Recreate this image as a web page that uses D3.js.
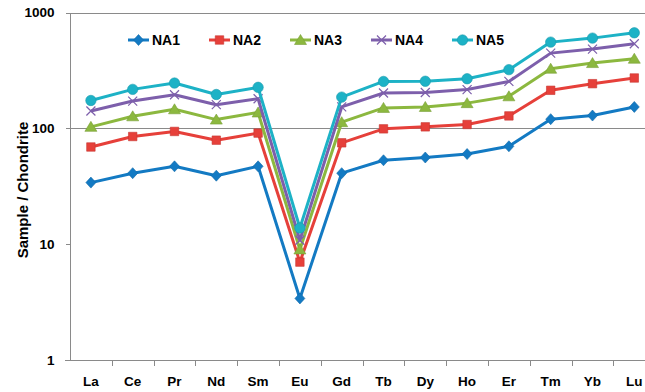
<!DOCTYPE html>
<html lang="en">
<head>
<meta charset="utf-8">
<title>REE chondrite-normalised pattern</title>
<script src="https://cdn.jsdelivr.net/npm/d3@7"></script>
<style>
  body { margin: 0; background: #fff; }
  text { font-family: "Liberation Sans", Arial, sans-serif; font-weight: bold; fill: #000; }
  .grid line { stroke: #8a8a8a; stroke-width: 1; }
  .axis path, .axis line { stroke: #8a8a8a; shape-rendering: crispEdges; }
  .series { fill: none; stroke-width: 3; stroke-linejoin: round; }
</style>
</head>
<body>
<script>
// categories (rare earth elements)
var elements = ["La","Ce","Pr","Nd","Sm","Eu","Gd","Tb","Dy","Ho","Er","Tm","Yb","Lu"];

// series values
var na1 = [34, 41, 47, 39, 47, 3.4, 41, 53, 56, 60, 70, 120, 129, 153];
var na2 = [69, 85, 94, 79, 91, 7.0, 75, 99, 103, 108, 128, 213, 243, 272];
var na3 = [103, 127, 146, 119, 137, 9.0, 113, 150, 153, 165, 189, 327, 366, 399];
var na4 = [141, 172, 195, 160, 180, 10.8, 153, 202, 204, 216, 254, 446, 483, 537];
var na5 = [174, 217, 246, 196, 226, 13.8, 186, 254, 255, 268, 321, 555, 601, 668];

var seriesNames = ["NA1","NA2","NA3","NA4","NA5"];
var yTicks = [1, 10, 100, 1000];
var gridValues = [100, 1000];

var colors = ["#137ac3", "#e6403a", "#8cb83f", "#7d5fab", "#1db2c6"];
var shapes = ["diamond", "square", "triangle", "cross", "circle"];

var seriesData = [na1, na2, na3, na4, na5].map(function(vals, i) {
  return { name: seriesNames[i], color: colors[i], shape: shapes[i],
           values: vals.map(function(v, j) { return { el: elements[j], v: v }; }) };
});

var w = 645, h = 392;
var padLeft = 70, padTop = 12.5, axisY = 360;
var bandW = 41.8;

var svg = d3.select("body").append("svg")
  .attr("width", w).attr("height", h);

var x = d3.scaleBand().domain(elements).range([padLeft, padLeft + elements.length * bandW]);
var y = d3.scaleLog().domain([1, 1000]).range([axisY, padTop]);
var cx = function(el) { return x(el) + x.bandwidth() / 2; };

// gridlines
svg.append("g").attr("class", "grid")
  .selectAll("line").data(gridValues).enter().append("line")
  .attr("x1", padLeft).attr("x2", w)
  .attr("y1", function(d) { return Math.round(y(d)) + 0.5; })
  .attr("y2", function(d) { return Math.round(y(d)) + 0.5; });

// y axis
var yAxis = d3.axisLeft(y).tickValues(yTicks).tickFormat(d3.format("d")).tickSize(5).tickPadding(11);
var gy = svg.append("g").attr("class", "axis")
  .attr("transform", "translate(" + (padLeft + 0.5) + ",0)")
  .call(yAxis);
gy.select(".domain").attr("d", "M0," + padTop + "V" + axisY);
gy.selectAll("text").style("font-size", "13.5px");

// x axis with tick marks at band boundaries
var gx = svg.append("g").attr("class", "axis")
  .attr("transform", "translate(0," + (axisY + 0.5) + ")");
gx.append("line").attr("x1", padLeft - 5).attr("x2", w).attr("y1", 0).attr("y2", 0);
gx.selectAll(".bt").data(elements).enter().append("line")
  .attr("class", "bt")
  .attr("x1", function(d) { return Math.round(x(d) + x.bandwidth()) + 0.5; })
  .attr("x2", function(d) { return Math.round(x(d) + x.bandwidth()) + 0.5; })
  .attr("y1", 0).attr("y2", 5);
gx.selectAll("text").data(elements).enter().append("text")
  .attr("x", function(d) { return cx(d); })
  .attr("y", 25)
  .attr("text-anchor", "middle")
  .style("font-size", "13.5px")
  .text(function(d) { return d; });

// axis title
svg.append("text")
  .attr("transform", "translate(28,190) rotate(-90)")
  .attr("text-anchor", "middle")
  .style("font-size", "15px")
  .text("Sample / Chondrite");

// marker drawing
function drawMarker(sel, shape, color) {
  if (shape === "cross") {
    sel.append("path")
      .attr("d", "M-4.5,-4.5L4.5,4.5M-4.5,4.5L4.5,-4.5")
      .attr("stroke", color).attr("stroke-width", 1.2).attr("fill", "none");
    return;
  }
  var p = sel.append("path")
    .attr("fill", color)
    .attr("stroke", d3.color(color).darker(0.4))
    .attr("stroke-width", 0.6);
  if (shape === "diamond") p.attr("d", "M0,-5.5L5,0L0,5.5L-5,0Z");
  else if (shape === "square") p.attr("d", d3.symbol().type(d3.symbolSquare).size(72)());
  else if (shape === "triangle") p.attr("d", "M0,-5.5L6,4.5L-6,4.5Z");
  else p.attr("d", d3.symbol().type(d3.symbolCircle).size(85)());
}

var line = d3.line()
  .x(function(d) { return cx(d.el); })
  .y(function(d) { return y(d.v); });

seriesData.forEach(function(s) {
  var g = svg.append("g");
  g.append("path").datum(s.values)
    .attr("class", "series")
    .attr("stroke", s.color)
    .attr("d", line);
  g.selectAll("g.m").data(s.values).enter().append("g")
    .attr("class", "m")
    .attr("transform", function(d) { return "translate(" + cx(d.el) + "," + y(d.v) + ")"; })
    .each(function() { drawMarker(d3.select(this), s.shape, s.color); });
});

// legend
var legend = svg.append("g").attr("transform", "translate(128,40)");
var item = legend.selectAll("g").data(seriesData).enter().append("g")
  .attr("transform", function(d, i) { return "translate(" + (i * 81) + ",0)"; });
item.append("line")
  .attr("x1", 0).attr("x2", 21).attr("y1", 0).attr("y2", 0)
  .attr("stroke", function(d) { return d.color; })
  .attr("stroke-width", 3);
item.each(function(d) {
  var m = d3.select(this).append("g").attr("transform", "translate(10.5,0)");
  drawMarker(m, d.shape, d.color);
});
item.append("text")
  .attr("x", 24).attr("y", 5)
  .style("font-size", "14px")
  .text(function(d) { return d.name; });
</script>
</body>
</html>
